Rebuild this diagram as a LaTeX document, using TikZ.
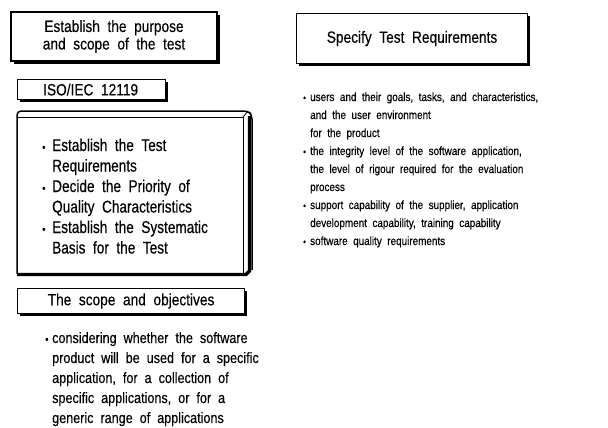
\documentclass[tikz,border=0pt]{standalone}
\usepackage{fontspec}
\setmainfont{Liberation Sans}[FakeStretch=0.84,WordSpace=2,FakeBold=0.3]
\newfontfamily\bigf{Liberation Sans}[FakeStretch=0.8,WordSpace=2,FakeBold=0.3]
\usetikzlibrary{shadows}
\tikzset{
  shbox/.style={draw, line width=1.1pt, fill=white,
    general shadow={fill=black, shadow xshift=2.6pt, shadow yshift=-2.6pt},
    inner sep=0pt},
  hd/.style={font=\fontsize{16.3}{17.5}\selectfont},
  bt/.style={font=\bigf\fontsize{17}{20.5}\selectfont, align=left, inner sep=0pt, anchor=base west},
  lt/.style={font=\fontsize{15}{20}\selectfont, align=left, inner sep=0pt, anchor=base west},
  rt/.style={font=\fontsize{11.8}{18}\selectfont, align=left, inner sep=0pt, anchor=base west},
  lbul/.style={font=\fontsize{11}{11}\selectfont, inner sep=0pt, anchor=base west},
  rbul/.style={font=\fontsize{9.5}{9.5}\selectfont, inner sep=0pt, anchor=base west},
  outerln/.style={line width=1.5pt, line join=round},
  innerln/.style={line width=0.8pt},
  thickln/.style={line width=3.2pt},
}
\begin{document}
\begin{tikzpicture}[x=1pt,y=-1pt]
\useasboundingbox[fill=white] (0,0) rectangle (608,428);

% top-left box
\node[shbox, hd, minimum width=206pt, minimum height=49pt, align=center] (purpose) at (114,36.5)
  {Establish the purpose\\and scope of the test};

% ISO box
\node[shbox, minimum width=148pt, minimum height=20pt, anchor=north west] (iso) at (17,79) {};
\node[hd, anchor=west, inner sep=0pt] (isotext) at ([xshift=26pt]iso.west) {ISO/IEC 12119};

% big 3D box
\coordinate (bA) at (17,274);
\coordinate (bB) at (17,111);
\coordinate (bC) at (248,111);
\coordinate (bD) at (252,115);
\coordinate (bE) at (252,270);
\coordinate (iA) at (17,117);
\coordinate (iB) at (243,117);
\coordinate (iC) at (243,273);
\draw[outerln, rounded corners=4pt] (bA) -- (bB) -- (bC) -- (bD) -- (bE);
\draw[innerln] (iA) -- (iB) -- (iC);
\draw[innerln] (iB) -- (bC);
\draw[thickln] (249.5,116) -- (249.5,271) -- (246,274.5) -- (17,274.5);

% items (anchor base = baseline of the last line)
\node[lbul] (b1) at (42,151) {•};
\node[bt] (t1) at (52,171.5) {Establish the Test\\Requirements};
\node[lbul] (b2) at (42,192) {•};
\node[bt] (t2) at (52,212.5) {Decide the Priority of\\Quality Characteristics};
\node[lbul] (b3) at (42,233) {•};
\node[bt] (t3) at (52,253.5) {Establish the Systematic\\Basis for the Test};

% scope box
\node[shbox, hd, minimum width=227pt, minimum height=25pt, anchor=north west] (scope) at (17,288)
  {The scope and objectives};
\node[lbul] (b4) at (45,343) {•};
\node[lt] (t4) at (52,423) {considering whether the software\\product will be used for a specific\\application, for a collection of\\specific applications, or for a\\generic range of applications};

% right box
\node[shbox, hd, minimum width=231pt, minimum height=50pt, anchor=north west] (spec) at (296,13)
  {Specify Test Requirements};
\node[rbul] (r1b) at (303,101) {•};
\node[rt] (r1) at (310,137) {users and their goals, tasks, and characteristics,\\and the user environment\\for the product};
\node[rbul] (r2b) at (303,155) {•};
\node[rt] (r2) at (310,191) {the integrity level of the software application,\\the level of rigour required for the evaluation\\process};
\node[rbul] (r3b) at (303,209) {•};
\node[rt] (r3) at (310,227) {support capability of the supplier, application\\development capability, training capability};
\node[rbul] (r4b) at (303,245) {•};
\node[rt] (r4) at (310,245) {software quality requirements};
\end{tikzpicture}
\end{document}
